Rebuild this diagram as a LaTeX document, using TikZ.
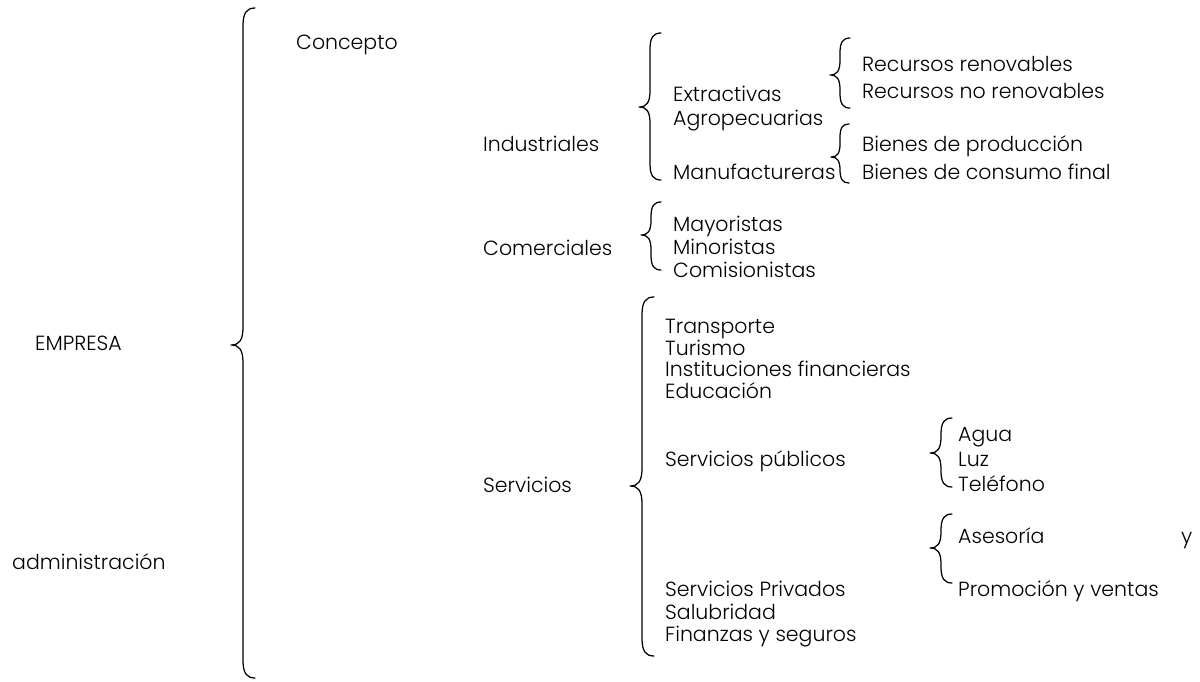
\documentclass[tikz,border=0pt]{standalone}
\usepackage{fontspec}
\setmainfont{Poppins}[UprightFont=* Light]
\begin{document}
\begin{tikzpicture}[x=1pt,y=-1pt,
  lbl/.style={anchor=mid west,inner sep=0pt,yshift=-4pt,font=\fontsize{20.5}{24}\selectfont},
  bracestyle/.style={draw=black,line width=1.25pt,line cap=round,line join=round}]
\useasboundingbox (0,0) rectangle (1200,681);
% curly brace: #1 line x, #2 top y, #3 tip y, #4 bottom y, #5 curl size
\newcommand\curlyb[5]{%
  \path[bracestyle] ({#1+#5},#2) .. controls ({#1+0.3*#5},#2) and (#1,{#2+0.4*#5}) .. (#1,{#2+1.5*#5})
    -- (#1,{#3-1.5*#5}) .. controls (#1,{#3-0.4*#5}) and ({#1-0.3*#5},#3) .. ({#1-#5},#3)
    .. controls ({#1-0.3*#5},#3) and (#1,{#3+0.4*#5}) .. (#1,{#3+1.5*#5})
    -- (#1,{#4-1.5*#5}) .. controls (#1,{#4-0.4*#5}) and ({#1+0.3*#5},#4) .. ({#1+#5},#4);}

% level 0
\node[lbl] (concepto) at (296,43) {Concepto};
\node[lbl] (empresa) at (35,344) {EMPRESA};
\node[lbl] (admin) at (12,563) {administración};
\curlyb{243}{8}{345}{678}{12}

% level 1
\node[lbl] (ind) at (483,145) {Industriales};
\node[lbl] (com) at (483,249) {Comerciales};
\node[lbl] (serv) at (483,486) {Servicios};

% industriales
\curlyb{650}{33}{107}{180}{11}
\node[lbl] (extr) at (673,95) {Extractivas};
\node[lbl] (agro) at (673,119) {Agropecuarias};
\node[lbl] (manu) at (673,173) {Manufactureras};
\curlyb{840}{38}{75}{108}{10}
\node[lbl] (rr) at (862,65) {Recursos renovables};
\node[lbl] (rnr) at (862,92) {Recursos no renovables};
\curlyb{840}{124}{157}{183}{9}
\node[lbl] (bp) at (862,145) {Bienes de producción};
\node[lbl] (bc) at (862,173) {Bienes de consumo final};

% comerciales
\curlyb{651}{202}{235}{270}{10}
\node[lbl] (may) at (673,225) {Mayoristas};
\node[lbl] (min) at (673,248) {Minoristas};
\node[lbl] (comi) at (673,271) {Comisionistas};

% servicios
\curlyb{642}{297}{486}{656}{12}
\node[lbl] (tra) at (665,327) {Transporte};
\node[lbl] (tur) at (665,349) {Turismo};
\node[lbl] (inst) at (665,370) {Instituciones financieras};
\node[lbl] (edu) at (665,392) {Educación};
\node[lbl] (spub) at (665,460) {Servicios públicos};
\node[lbl] (spriv) at (665,590) {Servicios Privados};
\node[lbl] (salu) at (665,613) {Salubridad};
\node[lbl] (fin) at (665,635) {Finanzas y seguros};

\curlyb{941}{418}{453}{487}{11}
\node[lbl] (agua) at (958,435) {Agua};
\node[lbl] (luz) at (958,460) {Luz};
\node[lbl] (tel) at (958,485) {Teléfono};

\curlyb{941}{514}{548}{583}{11}
\node[lbl] (ases) at (958,537) {Asesoría};
\node[lbl] (yy) at (1181,537) {y};
\node[lbl] (prom) at (958,590) {Promoción y ventas};
\end{tikzpicture}
\end{document}
